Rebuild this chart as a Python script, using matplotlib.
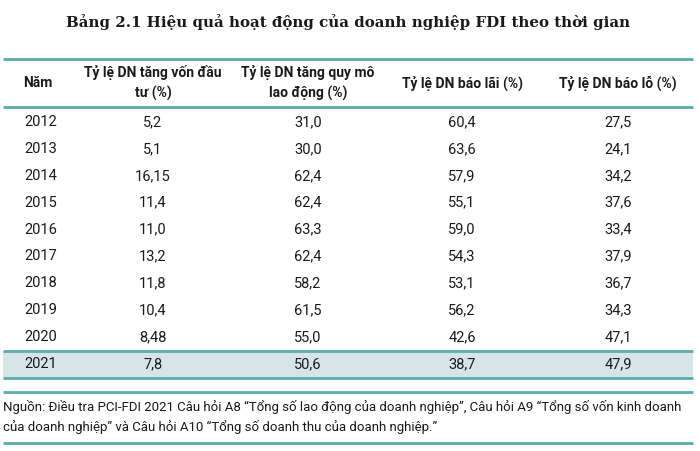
import matplotlib
matplotlib.use("Agg")
import matplotlib.pyplot as plt
from matplotlib.patches import Rectangle

TEAL = "#5aadad"; HILITE = "#d8e5e8"; TXT = "#1a1a1a"
SANS = ["Liberation Sans Narrow", "Roboto", "DejaVu Sans"]

title = "Bảng 2.1 Hiệu quả hoạt động của doanh nghiệp FDI theo thời gian"
headers = ["Năm", "Tỷ lệ DN tăng vốn đầu\ntư (%)", "Tỷ lệ DN tăng quy mô\nlao động (%)",
           "Tỷ lệ DN báo lãi (%)", "Tỷ lệ DN báo lỗ (%)"]
years = ["2012", "2013", "2014", "2015", "2016", "2017", "2018", "2019", "2020", "2021"]
von = ["5,2", "5,1", "16,15", "11,4", "11,0", "13,2", "11,8", "10,4", "8,48", "7,8"]
laodong = ["31,0", "30,0", "62,4", "62,4", "63,3", "62,4", "58,2", "61,5", "55,0", "50,6"]
lai = ["60,4", "63,6", "57,9", "55,1", "59,0", "54,3", "53,1", "56,2", "42,6", "38,7"]
lo = ["27,5", "24,1", "34,2", "37,6", "33,4", "37,9", "36,7", "34,3", "47,1", "47,9"]
source = ("Nguồn: Điều tra PCI-FDI 2021 Câu hỏi A8 “Tổng số lao động của doanh nghiệp”, Câu hỏi A9 “Tổng số vốn kinh doanh\n"
          "của doanh nghiệp” và Câu hỏi A10 “Tổng số doanh thu của doanh nghiệp.”")

fig = plt.figure(figsize=(7, 4.51), dpi=100)
ax = fig.add_axes([0, 0, 1, 1])
ax.set_xlim(0, 700); ax.set_ylim(451, 0); ax.axis("off")

ax.text(348, 22, title, ha="center", va="center", fontsize=10.8, fontweight="bold",
        family=["DejaVu Serif Condensed", "DejaVu Serif"], color=TXT)

x0, x1 = 3, 693
def hline(y, lw=2.0):
    ax.plot([x0, x1], [y, y], color=TEAL, lw=lw, solid_capstyle="butt")

col_x = [24, 153, 308, 462, 618]
# header
ax.text(col_x[0] + 14, 83, headers[0], ha="center", va="center", fontsize=10, fontweight="bold",
        family=SANS, color=TXT)
for cx, h in zip(col_x[1:], headers[1:]):
    ax.text(cx, 83, h, ha="center", va="center", fontsize=10, fontweight="bold",
            family=SANS, color=TXT, linespacing=1.45)

row0, dy = 122, 26.9
n = len(years)
# highlight last row
ylast = row0 + (n - 1) * dy
ax.add_patch(Rectangle((x0, ylast - 13.5), x1 - x0, 27, facecolor=HILITE, edgecolor="none", zorder=0))

for i in range(n):
    y = row0 + i * dy
    ax.text(col_x[0], y, years[i], ha="left", va="center", fontsize=10.5, family=SANS, color=TXT)
    for cx, v in zip(col_x[1:], [von[i], laodong[i], lai[i], lo[i]]):
        ax.text(cx, y, v, ha="center", va="center", fontsize=10.5, family=SANS, color=TXT)

hline(59); hline(107)
hline(ylast - 13.5); hline(ylast + 13.5)
hline(392); hline(443)

ax.text(x0, 417, source, ha="left", va="center", fontsize=9.5, family=SANS, color=TXT,
        linespacing=1.6)

fig.savefig("out.png", dpi=100, facecolor="white")
